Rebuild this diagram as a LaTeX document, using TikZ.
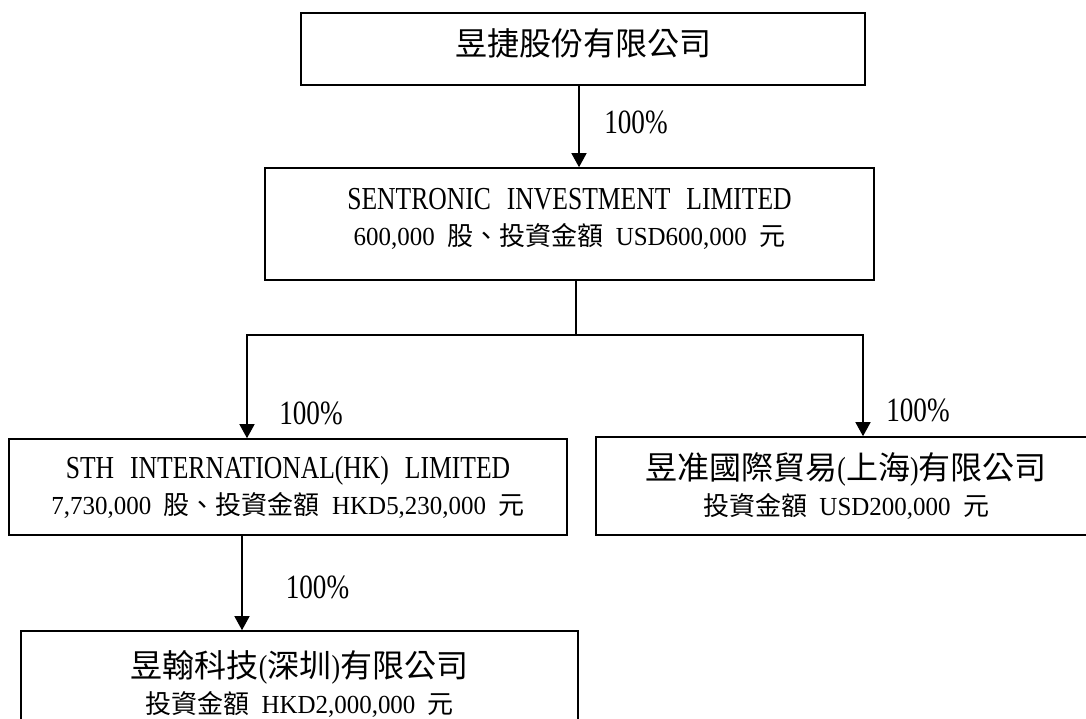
\documentclass[tikz,border=0pt]{standalone}
\usepackage{fontspec}
\setmainfont{Liberation Serif}[FakeStretch=0.8, WordSpace=2.5]
\newfontfamily\amtfont{Liberation Serif}[FakeStretch=0.96, WordSpace=2]
\newfontfamily\cjk{Noto Sans CJK TC}
\newcommand{\namesize}{\fontsize{32}{36}\selectfont}
\newcommand{\amtsize}{\amtfont\fontsize{26}{36}\selectfont}
\usetikzlibrary{arrows.meta}

\begin{document}
\begin{tikzpicture}
    [x=1pt,y=-1pt,
     comp/.style={draw, line width=1.6pt, align=center, inner sep=0pt, font=\namesize},
     pct/.style={inner sep=0pt, font=\fontsize{34}{40}\selectfont},
     link/.style={line width=1.4pt},
     arr/.style={-{Triangle[length=14pt,width=15pt]}}]
  \useasboundingbox (0,0) rectangle (1086,719);

  \node[comp, minimum width=564, minimum height=72] (parent) at (583,49)
    {{\cjk 昱捷股份有限公司}\rule[-13pt]{0pt}{13pt}};
  \node[comp, minimum width=609, minimum height=112] (sentronic) at (569.5,224)
    {SENTRONIC INVESTMENT LIMITED\\
     \amtsize 600,000 {\cjk 股、投資金額} USD600,000 {\cjk 元}\rule[-14pt]{0pt}{14pt}};
  \node[comp, minimum width=558, minimum height=96] (sth) at (288,487)
    {STH INTERNATIONAL(HK) LIMITED\\
     \amtsize 7,730,000 {\cjk 股、投資金額} HKD5,230,000 {\cjk 元}};
  \node[comp, minimum width=500, minimum height=98] (shanghai) at (846,486)
    {{\cjk 昱准國際貿易}({\cjk 上海}){\cjk 有限公司}\\
     \amtsize {\cjk 投資金額} USD200,000 {\cjk 元}};
  \node[comp, minimum width=557, minimum height=105] (shenzhen) at (299.5,683.5)
    {{\cjk 昱翰科技}({\cjk 深圳}){\cjk 有限公司}\\
     \amtsize {\cjk 投資金額} HKD2,000,000 {\cjk 元}};

  \node[pct] (p1) at (636,122) {100\%};
  \node[pct] (p2) at (311,413) {100\%};
  \node[pct] (p3) at (918,410) {100\%};
  \node[pct] (p4) at (317.5,587) {100\%};

  \coordinate (split) at (576,335);
  \draw[link, arr] ([xshift=-4pt]parent.south) -- ([xshift=-4pt]parent.south |- sentronic.north);
  \draw[link] (sentronic.south -| split) -- (split);
  \draw[link, arr] (split) -| ([xshift=-41pt]sth.north);
  \draw[link, arr] (split) -| ([xshift=17pt]shanghai.north);
  \draw[link, arr] ([xshift=-46pt]sth.south) -- ([xshift=-46pt]sth.south |- shenzhen.north);
\end{tikzpicture}
\end{document}
